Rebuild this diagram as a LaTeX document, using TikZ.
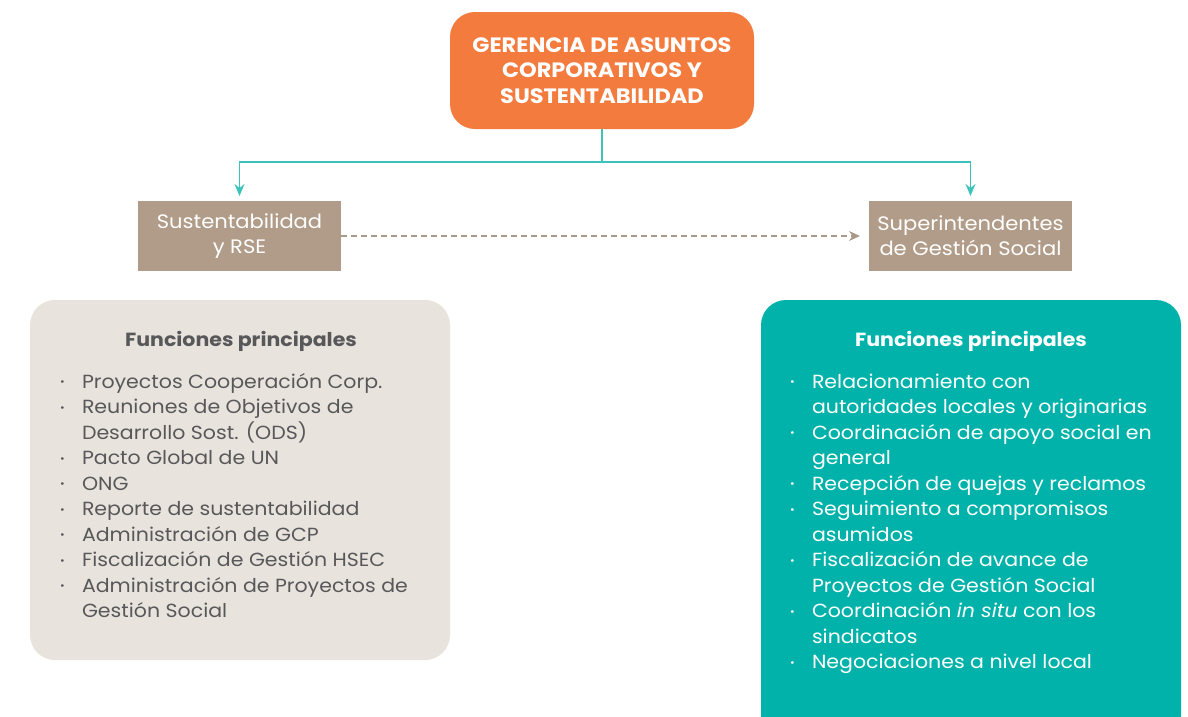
\documentclass[tikz,border=0pt]{standalone}
\usepackage{fontspec}
\setmainfont{Poppins}[FakeStretch=1.08]
\usetikzlibrary{arrows.meta}
\definecolor{orangebox}{HTML}{F47B3E}
\definecolor{tealline}{HTML}{3DC3B9}
\definecolor{tealbox}{HTML}{00B2A9}
\definecolor{taupe}{HTML}{B09C88}
\definecolor{dashcol}{HTML}{A8998A}
\definecolor{beige}{HTML}{E8E3DD}
\definecolor{graytext}{HTML}{58585A}
\newcommand{\bdot}{\hspace*{2pt}\raisebox{0.22ex}{\scalebox{0.55}{\textbullet}}}
\newcommand{\bi}{\bdot&}
\tikzset{
  every node/.style={inner sep=0pt, outer sep=0pt},
  topbox/.style={fill=orangebox, rounded corners=25pt, minimum width=304pt, minimum height=117pt,
    text=white, align=center, font=\fontsize{20.8}{25.5}\selectfont\bfseries},
  unitbox/.style={fill=taupe, minimum width=203pt, minimum height=70pt,
    text=white, align=center, font=\fontsize{19.5}{25}\selectfont},
  panel/.style={rounded corners=25pt, minimum width=420pt},
  ptitle/.style={anchor=base, font=\fontsize{19}{25}\selectfont\bfseries},
  plist/.style={anchor=base west, align=left, font=\fontsize{19}{25.5}\selectfont},
  conn/.style={draw=tealline, line width=1.8pt, -{Stealth[length=12pt,width=10pt]}, shorten >=5pt},
  dashconn/.style={draw=dashcol, line width=1.3pt, dash pattern=on 6pt off 4pt,
    -{Stealth[length=11pt,width=10pt]}, shorten >=9pt}
}
\begin{document}
\begin{tikzpicture}[x=1pt,y=-1pt]
\useasboundingbox (0,0) rectangle (1188,716);
\node[topbox] (gerencia) at (602,70.5) {GERENCIA DE ASUNTOS\\CORPORATIVOS Y\\SUSTENTABILIDAD};
\node[unitbox] (sust) at (239.5,236) {Sustentabilidad\\y RSE};
\node[unitbox] (super) at (970.5,236) {Superintendentes\\de Gestión Social};
\draw[conn] (gerencia.south) -- ++(0,33) coordinate (j) -| (sust.north);
\draw[conn] (j) -| (super.north);
\draw[dashconn] (sust.east) -- (super.west);
% left panel
\node[panel, fill=beige, minimum height=360pt] (funcL) at (240,480) {};
\node[ptitle, text=graytext] (titL) at (241,346.5) {Funciones principales};
\node[plist, text=graytext] (listL) at (58,388) {%
\begin{tabular}[t]{@{}p{24pt}@{}l@{}}
\bi Proyectos Cooperación Corp.\\
\bi Reuniones de Objetivos de\\
 & Desarrollo Sost. (ODS)\\
\bi Pacto Global de UN\\
\bi ONG\\
\bi Reporte de sustentabilidad\\
\bi Administración de GCP\\
\bi Fiscalización de Gestión HSEC\\
\bi Administración de Proyectos de\\
 & Gestión Social
\end{tabular}};
% right panel
\node[panel, fill=tealbox, minimum height=440pt] (funcR) at (971,520) {};
\node[ptitle, text=white] (titR) at (971,346.5) {Funciones principales};
\node[plist, text=white] (listR) at (788,388) {%
\begin{tabular}[t]{@{}p{24pt}@{}l@{}}
\bi Relacionamiento con\\
 & autoridades locales y originarias\\
\bi Coordinación de apoyo social en\\
 & general\\
\bi Recepción de quejas y reclamos\\
\bi Seguimiento a compromisos\\
 & asumidos\\
\bi Fiscalización de avance de\\
 & Proyectos de Gestión Social\\
\bi Coordinación \textit{in situ} con los\\
 & sindicatos\\
\bi Negociaciones a nivel local
\end{tabular}};
\end{tikzpicture}
\end{document}
